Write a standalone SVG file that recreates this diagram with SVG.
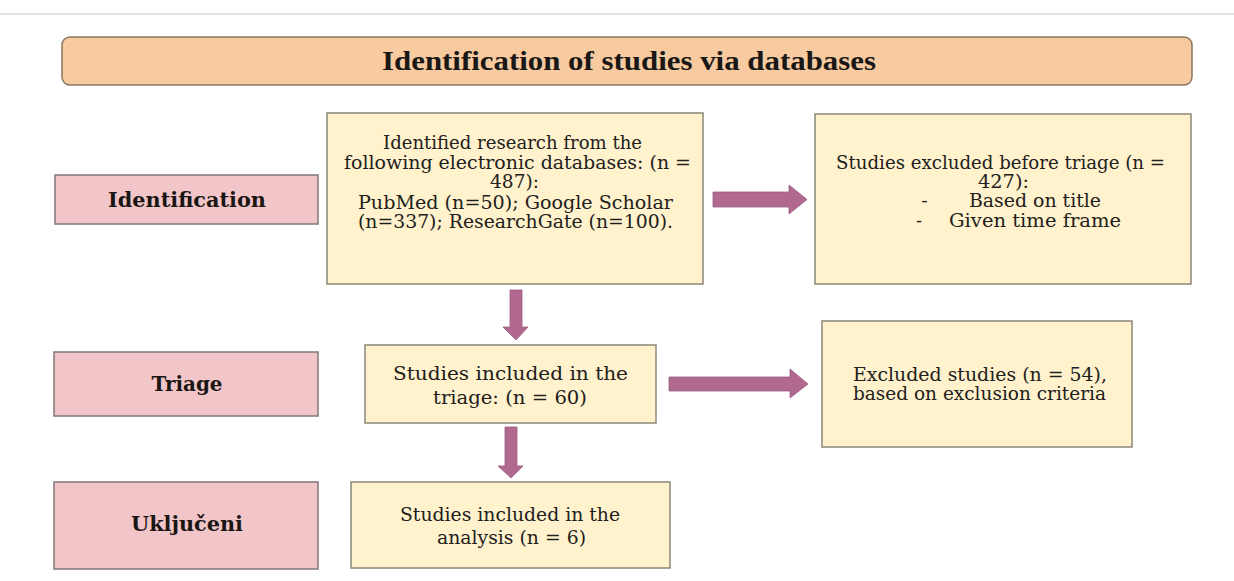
<svg xmlns="http://www.w3.org/2000/svg" width="1234" height="581" viewBox="0 0 1234 581">
<style>
  .hdr{fill:#f8caa0;stroke:#8a7560;stroke-width:1.5}
  .lbl{fill:#f2c6c8;stroke:#80787a;stroke-width:1.5}
  .box{fill:#fff2cc;stroke:#8c8878;stroke-width:1.5}
  .arr{fill:#b2698f;stroke:#9a5a7d;stroke-width:0.8}
  .t{font-family:"DejaVu Serif","Liberation Serif",serif;font-size:18px;fill:#22201c;text-anchor:middle}
  .lt{font-family:"DejaVu Serif","Liberation Serif",serif;font-size:20px;font-weight:bold;fill:#1a1614;text-anchor:middle}
  .title{font-family:"Liberation Serif","DejaVu Serif",serif;font-size:27px;font-weight:bold;fill:#1a1816;text-anchor:middle}
</style>
<rect width="1234" height="581" fill="#ffffff"/>
<line x1="0" y1="14" x2="1234" y2="14" stroke="#e2e2e2" stroke-width="2"/>

<g id="header">
  <rect class="hdr" x="62" y="37" width="1130" height="48" rx="8"/>
  <text class="title" x="629" y="70" textLength="494" lengthAdjust="spacingAndGlyphs">Identification of studies via databases</text>
</g>

<g id="label-identification">
  <rect class="lbl" x="55" y="175" width="263" height="49"/>
  <text class="lt" x="187" y="207" textLength="158" lengthAdjust="spacingAndGlyphs">Identification</text>
</g>
<g id="label-triage">
  <rect class="lbl" x="54" y="352" width="264" height="64"/>
  <text class="lt" x="187" y="391" textLength="71" lengthAdjust="spacingAndGlyphs">Triage</text>
</g>
<g id="label-ukljuceni">
  <rect class="lbl" x="54" y="482" width="264" height="87"/>
  <text class="lt" x="187" y="531" textLength="112" lengthAdjust="spacingAndGlyphs">Uključeni</text>
</g>

<g id="identified">
  <rect class="box" x="327" y="113" width="376" height="171"/>
  <text class="t" x="512.5" y="149" textLength="259" lengthAdjust="spacingAndGlyphs">Identified research from the</text>
  <text class="t" x="517.5" y="169" textLength="347" lengthAdjust="spacingAndGlyphs">following electronic databases: (n =</text>
  <text class="t" x="514.5" y="188" textLength="49" lengthAdjust="spacingAndGlyphs">487):</text>
  <text class="t" x="515.5" y="209" textLength="315" lengthAdjust="spacingAndGlyphs">PubMed (n=50); Google Scholar</text>
  <text class="t" x="515.5" y="228" textLength="315" lengthAdjust="spacingAndGlyphs">(n=337); ResearchGate (n=100).</text>
</g>

<g id="excluded-before">
  <rect class="box" x="815" y="114" width="376" height="170"/>
  <text class="t" x="1000.5" y="169" textLength="329" lengthAdjust="spacingAndGlyphs">Studies excluded before triage (n =</text>
  <text class="t" x="1003.5" y="188" textLength="51" lengthAdjust="spacingAndGlyphs">427):</text>
  <text class="t" y="207"><tspan x="924.5">-</tspan><tspan x="1035" textLength="132" lengthAdjust="spacingAndGlyphs">Based on title</tspan></text>
  <text class="t" y="227"><tspan x="919">-</tspan><tspan x="1035" textLength="172" lengthAdjust="spacingAndGlyphs">Given time frame</tspan></text>
</g>

<g id="triage">
  <rect class="box" x="365" y="345" width="291" height="78"/>
  <text class="t" x="510.5" y="380" textLength="235" lengthAdjust="spacingAndGlyphs">Studies included in the</text>
  <text class="t" x="510" y="404" textLength="154" lengthAdjust="spacingAndGlyphs">triage: (n = 60)</text>
</g>

<g id="excluded-criteria">
  <rect class="box" x="822" y="321" width="310" height="126"/>
  <text class="t" x="980" y="381" textLength="254" lengthAdjust="spacingAndGlyphs">Excluded studies (n = 54),</text>
  <text class="t" x="979.5" y="400" textLength="253" lengthAdjust="spacingAndGlyphs">based on exclusion criteria</text>
</g>

<g id="analysis">
  <rect class="box" x="351" y="482" width="319" height="86"/>
  <text class="t" x="510" y="521" textLength="220" lengthAdjust="spacingAndGlyphs">Studies included in the</text>
  <text class="t" x="511.5" y="544" textLength="149" lengthAdjust="spacingAndGlyphs">analysis (n = 6)</text>
</g>

<g id="connectors">
  <polygon class="arr" points="713,192 789,192 789,185 807,199.5 789,214 789,207 713,207"/>
  <polygon class="arr" points="669,377 790,377 790,369 808,384 790,398 790,391 669,391"/>
  <polygon class="arr" points="510,290 522,290 522,327 528,327 516,340 503,327 510,327"/>
  <polygon class="arr" points="505,427 517,427 517,466 523,466 511,478 498,466 505,466"/>
</g>
</svg>
